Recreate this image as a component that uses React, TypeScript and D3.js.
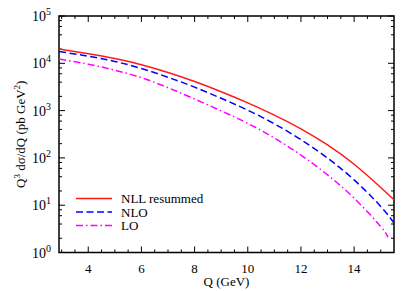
import * as d3 from 'd3';
import React, { useRef, useEffect } from 'react';

// values
const qNLL = [2.9, 4, 5, 6, 7, 8, 9, 10, 11, 12, 13, 14, 15, 15.5];
const nllValues = [19950, 15850, 12590, 9330, 6380, 4120, 2510, 1460, 804, 412, 188, 73.3, 23.7, 13.0];
const qNLO = [2.9, 4, 5, 6, 7, 8, 9, 10, 11, 12, 13, 14, 15, 15.5];
const nloValues = [17780, 14130, 10960, 7760, 5070, 3130, 1820, 1020, 525, 243, 98.9, 34.3, 9.44, 4.17];
const qLO = [2.9, 4, 5, 6, 7, 8, 9, 10, 11, 12, 13, 14, 15, 15.27];
const loValues = [12300, 9550, 7160, 4950, 3050, 1760, 989, 537, 263, 115, 43.7, 14.1, 3.55, 2.09];

const xMajorTicks = [4, 6, 8, 10, 12, 14];
const yDecades = [0, 1, 2, 3, 4, 5];
const yMinorMantissas = [2, 4, 6, 8];
const legendLabels = ['NLL resummed', 'NLO', 'LO'];

const FONT = '"Liberation Serif", "Times New Roman", serif';

function Chart() {
    const ref = useRef(null);

    useEffect(() => {
        const svg = d3.select(ref.current);
        svg.selectAll('*').remove();

        const left = 59, right = 394, top = 16, bottom = 252.5;
        const x = d3.scaleLinear().domain([2.9, 15.5]).range([left, right]);
        const y = d3.scaleLog().domain([1, 1e5]).range([bottom, top]);

        svg.append('defs').append('clipPath').attr('id', 'plotclip')
            .append('rect')
            .attr('x', left).attr('y', top)
            .attr('width', right - left).attr('height', bottom - top);

        // ticks, inward on all four sides
        const ticks = svg.append('g').attr('stroke', '#000').attr('stroke-width', 1);
        const xMinor = d3.range(3, 15.5, 0.5).filter(v => xMajorTicks.indexOf(v) < 0);
        xMajorTicks.forEach(v => {
            ticks.append('line').attr('x1', x(v)).attr('x2', x(v)).attr('y1', bottom).attr('y2', bottom - 6);
            ticks.append('line').attr('x1', x(v)).attr('x2', x(v)).attr('y1', top).attr('y2', top + 6);
        });
        xMinor.forEach(v => {
            ticks.append('line').attr('x1', x(v)).attr('x2', x(v)).attr('y1', bottom).attr('y2', bottom - 3);
            ticks.append('line').attr('x1', x(v)).attr('x2', x(v)).attr('y1', top).attr('y2', top + 3);
        });
        yDecades.forEach(d => {
            const p = y(Math.pow(10, d));
            ticks.append('line').attr('x1', left).attr('x2', left + 6).attr('y1', p).attr('y2', p);
            ticks.append('line').attr('x1', right).attr('x2', right - 6).attr('y1', p).attr('y2', p);
            if (d < 5) {
                yMinorMantissas.forEach(m => {
                    const q = y(m * Math.pow(10, d));
                    ticks.append('line').attr('x1', left).attr('x2', left + 3).attr('y1', q).attr('y2', q);
                    ticks.append('line').attr('x1', right).attr('x2', right - 3).attr('y1', q).attr('y2', q);
                });
            }
        });

        // frame
        svg.append('rect')
            .attr('x', left).attr('y', top)
            .attr('width', right - left).attr('height', bottom - top)
            .attr('fill', 'none').attr('stroke', '#000').attr('stroke-width', 1.5);

        // tick labels
        xMajorTicks.forEach(v => {
            svg.append('text')
                .attr('x', x(v)).attr('y', 273)
                .attr('text-anchor', 'middle')
                .attr('font-family', FONT).attr('font-size', 13)
                .text(v);
        });
        yDecades.forEach(d => {
            const t = svg.append('text')
                .attr('x', 51).attr('y', y(Math.pow(10, d)) + 5)
                .attr('text-anchor', 'end')
                .attr('font-family', FONT).attr('font-size', 14);
            t.append('tspan').text('10');
            t.append('tspan').attr('dy', -6).attr('font-size', 10).text(d);
        });

        // axis titles
        svg.append('text')
            .attr('x', (left + right) / 2).attr('y', 286)
            .attr('text-anchor', 'middle')
            .attr('font-family', FONT).attr('font-size', 13)
            .text('Q (GeV)');

        const yt = svg.append('text')
            .attr('transform', 'translate(25,' + (top + bottom) / 2 + ') rotate(-90)')
            .attr('text-anchor', 'middle')
            .attr('font-family', FONT).attr('font-size', 13);
        yt.append('tspan').text('Q');
        yt.append('tspan').attr('dy', -5).attr('font-size', 9).text('3');
        yt.append('tspan').attr('dy', 5).text(' d\u03c3/dQ (pb GeV');
        yt.append('tspan').attr('dy', -5).attr('font-size', 9).text('2');
        yt.append('tspan').attr('dy', 5).text(')');

        // curves
        const series = [
            { q: qNLL, v: nllValues, color: '#ff1a1a', dash: null },
            { q: qNLO, v: nloValues, color: '#0000ff', dash: '7,3.5' },
            { q: qLO, v: loValues, color: '#ff00ff', dash: '7,3,1.5,3' },
        ];
        const line = d3.line()
            .x(d => x(d[0]))
            .y(d => y(d[1]))
            .curve(d3.curveNatural);

        const plot = svg.append('g').attr('clip-path', 'url(#plotclip)');
        series.forEach(s => {
            plot.append('path')
                .datum(s.q.map((q, i) => [q, s.v[i]]))
                .attr('d', line)
                .attr('fill', 'none')
                .attr('stroke', s.color)
                .attr('stroke-width', 1.5)
                .attr('stroke-dasharray', s.dash);
        });

        // legend
        const legendY = [198.5, 212, 225.5];
        series.forEach((s, i) => {
            svg.append('line')
                .attr('x1', 76).attr('x2', 112)
                .attr('y1', legendY[i]).attr('y2', legendY[i])
                .attr('stroke', s.color)
                .attr('stroke-width', 1.5)
                .attr('stroke-dasharray', s.dash);
            svg.append('text')
                .attr('x', 121).attr('y', legendY[i] + 4.5)
                .attr('font-family', FONT).attr('font-size', 13)
                .text(legendLabels[i]);
        });
    }, []);

    return (
        <svg ref={ref} width={415} height={291}
            style={{ position: 'absolute', left: 0, top: 0, background: '#fff' }}>
        </svg>
    );
}

export default function App() {
    return <Chart />;
}
